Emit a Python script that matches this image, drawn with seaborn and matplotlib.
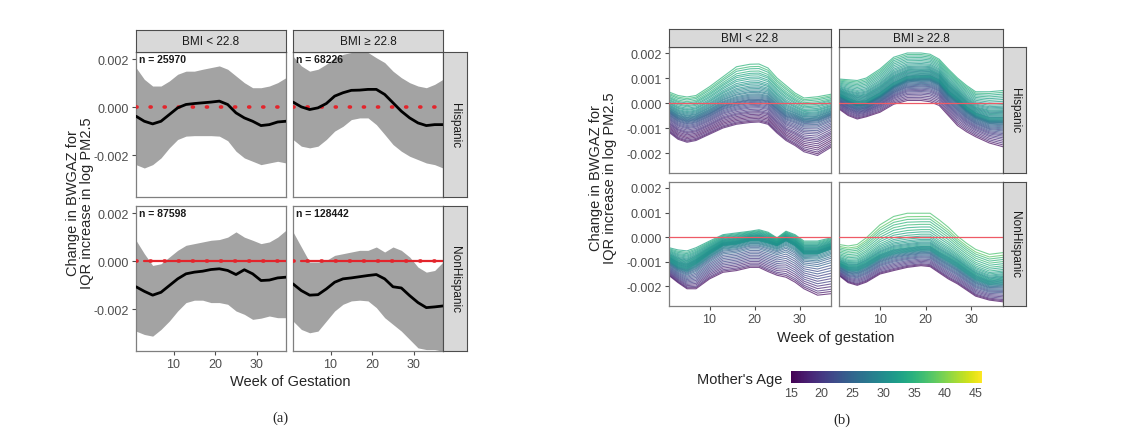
import matplotlib
matplotlib.use("Agg")
import matplotlib.pyplot as plt
import numpy as np
import pandas as pd
import seaborn as sns
from matplotlib.cm import ScalarMappable
from matplotlib.colors import Normalize

# ---------------- data (values in units of 1e-3) ----------------
bmi_groups = ["BMI < 22.8", "BMI \u2265 22.8"]
ethnicity = ["Hispanic", "NonHispanic"]
n_labels = ["n = 25970", "n = 68226", "n = 87598", "n = 128442"]

# panel (a): mean effect and interval by week
weeks_a = [1, 3, 5, 7, 9, 11, 13, 15, 17, 19, 21, 23, 25, 27, 29, 31, 33, 35, 37]
mean_a = [
    [-0.38, -0.59, -0.70, -0.59, -0.31, -0.03, 0.11, 0.15, 0.18, 0.21, 0.25, 0.11, -0.24, -0.45, -0.59, -0.77, -0.73, -0.62, -0.59],
    [0.21, 0.01, -0.10, -0.03, 0.15, 0.46, 0.60, 0.70, 0.71, 0.74, 0.74, 0.53, 0.18, -0.17, -0.45, -0.66, -0.77, -0.73, -0.73],
    [-1.07, -1.26, -1.42, -1.30, -1.02, -0.74, -0.53, -0.46, -0.42, -0.35, -0.32, -0.39, -0.56, -0.36, -0.53, -0.81, -0.79, -0.70, -0.67],
    [-0.95, -1.23, -1.42, -1.40, -1.16, -0.88, -0.74, -0.70, -0.65, -0.60, -0.56, -0.74, -1.07, -1.12, -1.44, -1.73, -1.94, -1.91, -1.87],
]
upper_a = [
    [1.65, 1.16, 0.88, 0.88, 1.09, 1.37, 1.50, 1.50, 1.58, 1.65, 1.72, 1.58, 1.30, 1.02, 0.81, 0.81, 0.88, 1.02, 1.23],
    [2.13, 1.72, 1.50, 1.58, 1.79, 2.06, 2.20, 2.28, 2.35, 2.28, 2.06, 1.86, 1.50, 1.23, 1.02, 0.88, 0.81, 0.95, 1.16],
    [0.87, 0.31, -0.18, -0.11, 0.17, 0.45, 0.66, 0.73, 0.80, 0.87, 0.90, 1.00, 1.22, 1.00, 0.87, 0.73, 0.80, 1.00, 1.29],
    [1.22, 0.59, -0.04, -0.04, 0.03, 0.24, 0.31, 0.38, 0.45, 0.45, 0.59, 0.38, 0.59, 0.45, 0.17, -0.25, -0.46, -0.39, -0.04],
]
lower_a = [
    [-2.40, -2.54, -2.40, -2.12, -1.70, -1.35, -1.21, -1.19, -1.19, -1.19, -1.21, -1.40, -1.84, -2.12, -2.26, -2.40, -2.33, -2.26, -2.33],
    [-1.35, -1.63, -1.70, -1.63, -1.35, -1.00, -0.80, -0.52, -0.45, -0.45, -0.73, -1.14, -1.56, -1.84, -2.05, -2.19, -2.33, -2.40, -2.54],
    [-2.92, -3.06, -3.13, -2.85, -2.50, -2.08, -1.73, -1.63, -1.63, -1.73, -1.73, -1.80, -2.08, -2.22, -2.43, -2.38, -2.29, -2.36, -2.36],
    [-2.50, -2.85, -2.99, -2.92, -2.50, -2.08, -1.80, -1.66, -1.63, -1.66, -1.94, -2.36, -2.64, -2.92, -3.27, -3.62, -3.69, -3.69, -3.76],
]

# panel (b): spread of individual curves (upper edge, dense core, lower edge)
weeks_b = [1, 3, 5, 7, 10, 13, 16, 19, 21, 23, 25, 27, 29, 31, 34, 37]
upper_b = [
    [0.44, 0.30, 0.24, 0.30, 0.65, 1.05, 1.45, 1.55, 1.56, 1.40, 1.00, 0.70, 0.40, 0.20, 0.25, 0.35],
    [0.96, 0.93, 0.90, 1.00, 1.36, 1.83, 2.00, 2.00, 1.95, 1.75, 1.36, 1.00, 0.70, 0.45, 0.45, 0.50],
    [-0.43, -0.52, -0.56, -0.43, -0.16, 0.10, 0.17, 0.24, 0.30, 0.20, -0.03, 0.24, 0.10, -0.16, -0.16, -0.03],
    [-0.30, -0.36, -0.30, -0.03, 0.50, 0.84, 0.97, 0.97, 0.97, 0.70, 0.40, 0.04, -0.25, -0.50, -0.70, -0.63],
]
mid_b = [
    [-0.36, -0.60, -0.70, -0.64, -0.40, -0.10, 0.05, 0.15, 0.16, 0.10, -0.20, -0.50, -0.60, -0.75, -0.72, -0.50],
    [0.30, 0.10, -0.04, 0.00, 0.30, 0.70, 0.96, 1.00, 1.00, 0.83, 0.40, 0.10, -0.25, -0.50, -0.70, -0.70],
    [-0.96, -1.20, -1.30, -1.10, -0.70, -0.36, -0.30, -0.16, -0.16, -0.25, -0.36, -0.16, -0.36, -0.70, -0.70, -0.50],
    [-1.03, -1.20, -1.20, -1.03, -0.70, -0.50, -0.43, -0.36, -0.36, -0.60, -0.80, -1.03, -1.30, -1.55, -1.76, -1.70],
]
lower_b = [
    [-1.17, -1.45, -1.57, -1.50, -1.25, -1.00, -0.85, -0.78, -0.76, -0.85, -1.20, -1.50, -1.70, -1.95, -2.10, -1.77],
    [-0.24, -0.50, -0.64, -0.55, -0.37, -0.05, 0.10, 0.10, 0.05, -0.10, -0.50, -0.90, -1.15, -1.35, -1.60, -1.75],
    [-1.56, -1.85, -2.10, -2.10, -1.70, -1.43, -1.36, -1.23, -1.23, -1.40, -1.55, -1.63, -1.83, -2.10, -2.36, -2.30],
    [-1.56, -1.85, -1.96, -1.83, -1.50, -1.36, -1.23, -1.16, -1.20, -1.45, -1.70, -1.90, -2.15, -2.40, -2.56, -2.63],
]
# each curve: mother's age and its position in the spread (-1 lower edge, 0 core, 1 upper edge)
ages_b = [
    [35, 36, 34, 35, 33, 34, 32, 33, 31, 32, 30, 31, 29, 30, 28, 29, 27, 28, 26, 27, 25, 26, 24, 25, 23, 24, 22, 23, 21, 22, 20, 21, 19, 20, 18, 19, 17, 18, 16, 17, 18, 16, 17],
    [34, 35, 33, 34, 32, 33, 32, 31, 32, 31, 30, 31, 30, 31, 30, 29, 30, 31, 29, 30, 30, 29, 30, 31, 29, 30, 28, 29, 27, 28, 26, 27, 25, 26, 24, 25, 23, 24, 22, 23, 22, 21, 20, 21, 19, 20, 18, 19, 17, 16],
    [33, 34, 32, 33, 32, 31, 32, 31, 30, 31, 32, 30, 31, 30, 31, 30, 29, 31, 30, 29, 30, 31, 29, 30, 28, 29, 27, 28, 26, 25, 24, 25, 23, 22, 23, 21, 22, 20, 21, 19, 18, 19, 17, 16],
    [37, 38, 36, 35, 36, 34, 35, 33, 34, 32, 33, 31, 32, 31, 30, 31, 32, 30, 31, 30, 29, 31, 30, 29, 30, 28, 27, 26, 25, 24, 25, 23, 22, 23, 21, 20, 19, 20, 18, 17, 16],
]
levels_b = [
    [1.0, 0.93, 0.87, 0.8, 0.74, 0.69, 0.63, 0.58, 0.52, 0.47, 0.43, 0.38, 0.34, 0.3, 0.26, 0.22, 0.19, 0.15, 0.12, 0.09, 0.06, 0.03, 0.0, -0.03, -0.06, -0.1, -0.14, -0.18, -0.23, -0.28, -0.33, -0.38, -0.44, -0.5, -0.55, -0.6, -0.66, -0.72, -0.78, -0.84, -0.9, -0.95, -1.0],
    [1.0, 0.94, 0.88, 0.82, 0.76, 0.7, 0.64, 0.58, 0.53, 0.48, 0.44, 0.4, 0.36, 0.33, 0.3, 0.27, 0.24, 0.21, 0.18, 0.15, 0.12, 0.1, 0.08, 0.06, 0.04, 0.02, 0.0, -0.02, -0.04, -0.06, -0.08, -0.1, -0.13, -0.16, -0.2, -0.24, -0.28, -0.32, -0.36, -0.4, -0.45, -0.5, -0.55, -0.6, -0.66, -0.72, -0.79, -0.86, -0.93, -1.0],
    [1.0, 0.92, 0.85, 0.78, 0.72, 0.66, 0.6, 0.55, 0.5, 0.46, 0.42, 0.38, 0.34, 0.3, 0.27, 0.24, 0.21, 0.18, 0.15, 0.12, 0.09, 0.06, 0.03, 0.0, -0.03, -0.06, -0.09, -0.12, -0.16, -0.2, -0.25, -0.3, -0.36, -0.42, -0.48, -0.54, -0.6, -0.66, -0.72, -0.78, -0.84, -0.9, -0.95, -1.0],
    [1.0, 0.9, 0.82, 0.74, 0.66, 0.58, 0.5, 0.43, 0.36, 0.3, 0.25, 0.2, 0.16, 0.12, 0.09, 0.06, 0.03, 0.0, -0.03, -0.06, -0.09, -0.12, -0.15, -0.18, -0.21, -0.24, -0.28, -0.32, -0.36, -0.4, -0.45, -0.5, -0.55, -0.6, -0.66, -0.72, -0.78, -0.84, -0.9, -0.95, -1.0],
]

# ---------------- style ----------------
sns.set_theme(style="white")
plt.rcParams["font.family"] = ["Liberation Sans", "DejaVu Sans"]

W, H = 1127, 439
fig = plt.figure(figsize=(W / 100, H / 100), dpi=100)


def box(x0, y0, x1, y1):
    # pixel box (top-left origin) -> figure fraction rect
    return [x0 / W, 1 - y1 / H, (x1 - x0) / W, (y1 - y0) / H]


def strip(rect, label, vertical=False):
    s = fig.add_axes(rect)
    s.set_facecolor("#d9d9d9")
    s.set_xticks([])
    s.set_yticks([])
    for sp in s.spines.values():
        sp.set_color("#4d4d4d")
        sp.set_linewidth(0.8)
    s.text(0.5, 0.5, label, transform=s.transAxes, ha="center", va="center",
           fontsize=8.5, color="#1a1a1a", rotation=-90 if vertical else 0)


def frame(ax):
    for sp in ax.spines.values():
        sp.set_color("#7f7f7f")
        sp.set_linewidth(0.9)
    ax.tick_params(axis="both", direction="out", length=3, width=0.8,
                   color="#4d4d4d", labelcolor="#4d4d4d", labelsize=9, pad=2,
                   bottom=True, left=True)


tick_fmt = lambda v: "%.3f" % v

# ---------------- panel (a) ----------------
a_cols = [(136, 286), (293, 443)]
a_rows = [(53, 198), (207, 352)]
for i in range(4):
    r, c = divmod(i, 2)
    x0, x1 = a_cols[c]
    y0, y1 = a_rows[r]
    ax = fig.add_axes(box(x0, y0, x1, y1))
    wk = np.array(weeks_a)
    ax.fill_between(wk, np.array(lower_a[i]) * 1e-3, np.array(upper_a[i]) * 1e-3,
                    color="#a3a3a3", linewidth=0)
    if r == 1:
        ax.plot([3, 37], [0, 0], color="#e3242b", lw=1.6, zorder=3)
    ax.axhline(0, color="#e3242b", lw=2.6, ls=(0, (0.3, 3.6)), dash_capstyle="round", zorder=4)
    sns.lineplot(x=wk, y=np.array(mean_a[i]) * 1e-3, ax=ax, color="black", lw=2, zorder=5)
    ax.set_xlim(1, 37)
    ax.set_ylim(-0.00375, 0.0023)
    ax.set_xticks([10, 20, 30])
    ax.set_yticks([-0.002, 0.0, 0.002])
    ax.set_yticklabels([tick_fmt(v) for v in [-0.002, 0.0, 0.002]])
    frame(ax)
    if c == 1:
        ax.tick_params(labelleft=False, left=False)
    if r == 0:
        ax.tick_params(labelbottom=False, bottom=False)
        strip(box(x0, 31, x1, 53), bmi_groups[c])
    if c == 1:
        strip(box(443, y0, 467, y1), ethnicity[r], vertical=True)
    ax.text(0.02, 0.985, n_labels[i], transform=ax.transAxes, ha="left", va="top",
            fontsize=7.5, fontweight="bold", color="#1a1a1a")
    ax.set_xlabel("")
    ax.set_ylabel("")

fig.text(80 / W, 1 - 203 / H, "Change in BWGAZ for\nIQR increase in log PM2.5",
         rotation=90, ha="center", va="center", fontsize=10.5, linespacing=1.0)
fig.text(290 / W, 1 - 382 / H, "Week of Gestation", ha="center", va="center", fontsize=10.5)
fig.text(280 / W, 1 - 418 / H, "(a)", ha="center", va="center", fontsize=10.5,
         family=["Liberation Serif", "DejaVu Serif"])

# ---------------- panel (b) ----------------
frames = []
for i in range(4):
    wk = np.array(weeks_b)
    up, md, lo = (np.array(v[i]) for v in (upper_b, mid_b, lower_b))
    for j, (age, lev) in enumerate(zip(ages_b[i], levels_b[i])):
        vals = np.where(lev >= 0, md + lev * (up - md), md - lev * (lo - md)) * 1e-3
        frames.append(pd.DataFrame({"panel": i, "line": j, "age": age, "week": wk, "value": vals}))
df_b = pd.concat(frames, ignore_index=True)

b_cols = [(669, 831), (839, 1003)]
b_rows = [(48, 174), (183, 307)]
age_norm = Normalize(15, 46)
for i in range(4):
    r, c = divmod(i, 2)
    x0, x1 = b_cols[c]
    y0, y1 = b_rows[r]
    ax = fig.add_axes(box(x0, y0, x1, y1))
    sns.lineplot(data=df_b[df_b["panel"] == i], x="week", y="value", hue="age",
                 units="line", estimator=None, palette="viridis", hue_norm=age_norm,
                 lw=0.8, alpha=0.72, legend=False, ax=ax)
    ax.axhline(0, color="#ee5a66", lw=0.9, zorder=5)
    ax.set_xlim(1, 37)
    ax.set_ylim(-0.0028, 0.00224)
    ax.set_xticks([10, 20, 30])
    yt = [-0.002, -0.001, 0.0, 0.001, 0.002]
    ax.set_yticks(yt)
    ax.set_yticklabels([tick_fmt(v) for v in yt])
    frame(ax)
    ax.set_xlabel("")
    ax.set_ylabel("")
    if c == 1:
        ax.tick_params(labelleft=False, left=False)
        strip(box(1003, y0, 1026, y1), ethnicity[r], vertical=True)
    if r == 0:
        ax.tick_params(labelbottom=False, bottom=False)
        strip(box(x0, 30, x1, 48), bmi_groups[c])

fig.text(603 / W, 1 - 178 / H, "Change in BWGAZ for\nIQR increase in log PM2.5",
         rotation=90, ha="center", va="center", fontsize=10.5, linespacing=1.0)
fig.text(836 / W, 1 - 338 / H, "Week of gestation", ha="center", va="center", fontsize=10.5)

cax = fig.add_axes(box(791, 372, 982, 384))
cb = fig.colorbar(ScalarMappable(norm=age_norm, cmap="viridis"), cax=cax,
                  orientation="horizontal", ticks=[15, 20, 25, 30, 35, 40, 45])
cb.outline.set_visible(False)
cax.tick_params(length=0, labelsize=9, labelcolor="#4d4d4d", pad=3)
fig.text(782 / W, 1 - 380 / H, "Mother's Age", ha="right", va="center", fontsize=10.5)
fig.text(842 / W, 1 - 420 / H, "(b)", ha="center", va="center", fontsize=10.5,
         family=["Liberation Serif", "DejaVu Serif"])

fig.savefig("out.png", dpi=100)
